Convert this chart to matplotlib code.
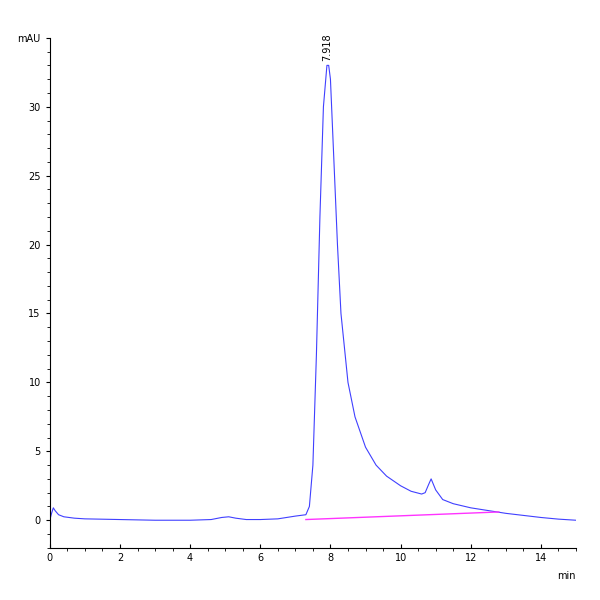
import numpy as np
import matplotlib.pyplot as plt
from matplotlib.ticker import MultipleLocator

# chromatogram (min, mAU)
time = [0, 0.05, 0.1, 0.15, 0.25, 0.4, 0.7, 1, 2, 3, 4, 4.6, 4.9, 5.1, 5.3, 5.6,
        6, 6.5, 7, 7.3, 7.4, 7.5, 7.6, 7.7, 7.8, 7.9, 7.95, 8.0, 8.1, 8.2, 8.3,
        8.5, 8.7, 9.0, 9.3, 9.6, 10, 10.3, 10.6, 10.7, 10.8, 10.87, 11.0, 11.2,
        11.5, 12, 12.5, 13, 13.5, 14, 14.5, 15]
signal = [0, 0.5, 0.9, 0.7, 0.4, 0.25, 0.15, 0.1, 0.05, 0.0, 0.0, 0.05, 0.2, 0.25,
          0.15, 0.05, 0.05, 0.1, 0.3, 0.4, 1.0, 4, 12, 22, 30, 33, 33, 32, 26, 20,
          15, 10, 7.5, 5.3, 4, 3.2, 2.5, 2.1, 1.9, 2.0, 2.6, 3.0, 2.2, 1.5, 1.2,
          0.9, 0.7, 0.5, 0.35, 0.2, 0.08, 0.0]
base_t = [7.3, 12.8]
base_y = [0.05, 0.6]
peak_t, peak_label = 7.918, "7.918"

fig = plt.figure(figsize=(6, 6), dpi=100)
ax = fig.add_axes([0.083, 0.087, 0.877, 0.85])
ax.plot(time, signal, color='#4040ff', lw=0.8)
ax.plot(base_t, base_y, color='#ff33ff', lw=1)
ax.text(peak_t, 33.3, peak_label, rotation=90, ha='center', va='bottom', fontsize=7)

ax.set_xlim(0, 15)
ax.set_ylim(-2, 35)
ax.set_xticks([0, 2, 4, 6, 8, 10, 12, 14])
ax.xaxis.set_minor_locator(MultipleLocator(0.5))
ax.set_yticks([0, 5, 10, 15, 20, 25, 30, 35])
ax.set_yticklabels(['0', '5', '10', '15', '20', '25', '30', 'mAU'])
ax.yaxis.set_minor_locator(MultipleLocator(1))
ax.tick_params(labelsize=7, length=3)
ax.tick_params(which='minor', length=2)
ax.tick_params(axis='x', direction='in')
ax.text(1.0, -0.045, 'min', transform=ax.transAxes, fontsize=7, ha='right', va='top')
ax.spines['top'].set_visible(False)
ax.spines['right'].set_visible(False)
fig.savefig('out.png')
